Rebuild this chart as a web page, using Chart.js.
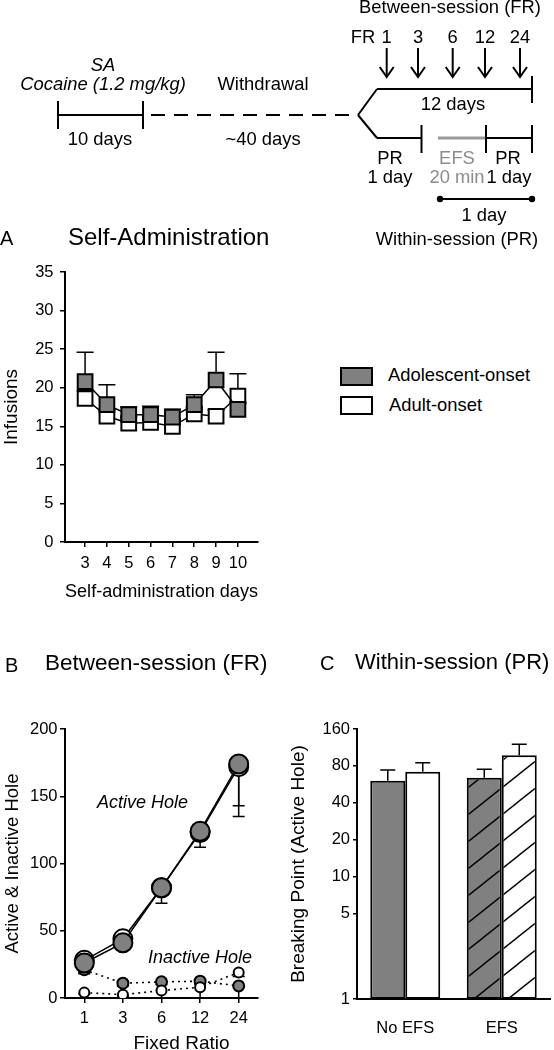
<!DOCTYPE html>
<html>
<head>
<meta charset="utf-8">
<script src="https://cdn.jsdelivr.net/npm/chart.js@4.4.1/dist/chart.umd.min.js"></script>
<style>
html, body { margin: 0; padding: 0; background: #fff; }
body { width: 554px; height: 1050px; position: relative; overflow: hidden;
       font-family: 'Liberation Sans', Arial, sans-serif; color: #000; }
canvas { position: absolute; }
.t { position: absolute; white-space: nowrap; line-height: 1; }
.sw { position: absolute; box-sizing: border-box; border: 2px solid #000; }
</style>
</head>
<body>
<canvas id="scheme" width="554" height="255" style="left:0;top:0"></canvas>
<canvas id="chartA" width="300" height="355" style="left:0;top:255px"></canvas>
<canvas id="chartB" width="280" height="410" style="left:0;top:640px"></canvas>
<canvas id="chartC" width="274" height="410" style="left:280px;top:640px"></canvas>
<script>
// ---- data ----
// A: self-administration
const saDays = [3, 4, 5, 6, 7, 8, 9, 10];
const saTicks = [0, 5, 10, 15, 20, 25, 30, 35];
const saAdolescent = [20.8, 17.8, 16.5, 16.5, 16.2, 17.8, 21.0, 17.2];
const saAdolescentSem = [3.8, 2.6, 1.0, 1.1, 1.0, 1.3, 3.6, 0.8];
const saAdult = [18.6, 16.3, 15.4, 15.5, 15.0, 16.6, 16.3, 18.9];
const saAdultSem = [1.0, 0.8, 0.8, 0.8, 0.8, 0.8, 0.8, 2.9];

// B: between-session FR
const frLabels = ['1', '3', '6', '12', '24'];
const frTicks = [0, 50, 100, 150, 200];
const activeAdolescent = [26, 41, 82, 124, 174];
const activeAdolescentSem = [8, 3, 11.5, 12, 31];
const activeAdult = [28, 44, 82, 123, 172];
const activeAdultSem = [6, 4, 3, 3, 37];
const inactiveAdolescent = [21, 11, 12, 12.5, 9];
const inactiveAdolescentSem = [2, 2, 2, 2, 9];
const inactiveAdult = [4, 2.5, 5.5, 8, 19];
const inactiveAdultSem = [1, 1, 5.5, 8, 3];

// C: within-session PR
const prGroups = ['No EFS', 'EFS'];
const prTicks = [1, 5, 10, 20, 40, 80, 160];
const prAdolescent = [60.5, 64];
const prAdolescentSem = [13.5, 11];
const prAdult = [71.7, 97.6];
const prAdultSem = [13.3, 22.4];

const GREY = '#808080';
const GREY_TXT = '#8c8c8c';

Chart.defaults.font.family = "'Liberation Sans', Arial, sans-serif";
Chart.defaults.color = '#000';

// ---- plain text helper (baseline positioned) ----
function addText(txt, x, base, o = {}) {
    const size = o.size || 18.4;
    const d = document.createElement('div');
    d.className = 't';
    d.textContent = txt;
    d.style.fontSize = size + 'px';
    d.style.top = (base - 0.8465 * size) + 'px';
    d.style.left = x + 'px';
    if (o.align === 'center') d.style.transform = 'translateX(-50%)';
    if (o.italic) d.style.fontStyle = 'italic';
    if (o.color) d.style.color = o.color;
    document.body.appendChild(d);
}

// ---- experiment timeline (schematic, not data) ----
const s = document.getElementById('scheme').getContext('2d');
s.strokeStyle = '#000';
s.lineWidth = 2;
function seg(x1, y1, x2, y2) {
    s.beginPath(); s.moveTo(x1, y1); s.lineTo(x2, y2); s.stroke();
}
seg(58, 115, 143, 115); seg(58, 101, 58, 129); seg(143, 101, 143, 129);
s.setLineDash([14, 9]);
seg(151, 115, 358, 115);
s.setLineDash([]);
seg(358, 115, 377, 89); seg(377, 89, 532, 89); seg(532, 76, 532, 103);
seg(358, 115, 377, 138); seg(377, 138, 421.5, 138); seg(421.5, 125, 421.5, 153);
seg(486, 138, 532, 138); seg(486, 125, 486, 153); seg(532, 125, 532, 153);
s.strokeStyle = '#9a9a9a'; s.lineWidth = 3;
seg(438, 138, 485, 138);
s.strokeStyle = '#000'; s.lineWidth = 2;
const arrowX = [386.7, 418, 452.7, 485, 520];
arrowX.forEach(x => {
    seg(x, 48, x, 77);
    s.beginPath(); s.moveTo(x - 7, 67); s.lineTo(x, 77); s.lineTo(x + 7, 67); s.stroke();
});
seg(440, 199, 532, 199);
[440, 532].forEach(x => { s.beginPath(); s.arc(x, 199, 3.2, 0, Math.PI * 2); s.fillStyle = '#000'; s.fill(); });

addText('Between-session (FR)', 450, 14, { align: 'center' });
addText('FR', 363, 43.5, { align: 'center' });
frLabels.forEach((l, i) => addText(l, arrowX[i], 43.5, { align: 'center' }));
addText('SA', 103, 72, { align: 'center', italic: true });
addText('Cocaine (1.2 mg/kg)', 103, 91, { align: 'center', italic: true });
addText('Withdrawal', 263, 91, { align: 'center' });
addText('12 days', 453, 111, { align: 'center' });
addText('10 days', 100, 146, { align: 'center' });
addText('~40 days', 263, 146, { align: 'center' });
addText('PR', 390, 165, { align: 'center' });
addText('1 day', 390, 184, { align: 'center' });
addText('EFS', 457, 165, { align: 'center', color: GREY_TXT });
addText('20 min', 457, 184, { align: 'center', color: GREY_TXT });
addText('PR', 508, 165, { align: 'center' });
addText('1 day', 509, 184, { align: 'center' });
addText('1 day', 484, 222, { align: 'center' });
addText('Within-session (PR)', 457, 246, { align: 'center' });

// panel headings, legend and notes
addText('A', 0, 245, { size: 20 });
addText('Self-Administration', 68, 245, { size: 24 });
addText('B', 5, 671.5, { size: 20 });
addText('Between-session (FR)', 45, 671.5, { size: 22.5 });
addText('C', 320, 670, { size: 20 });
addText('Within-session (PR)', 355, 670, { size: 22 });
addText('Adolescent-onset', 388, 381.5);
addText('Adult-onset', 389, 411.5);
addText('Active Hole', 97, 808, { italic: true, size: 18 });
addText('Inactive Hole', 148, 963, { italic: true, size: 18 });
addText('Fixed Ratio', 181.5, 1049, { align: 'center', size: 19 });

[[367, GREY], [396, '#fff']].forEach(([top, bg]) => {
    const d = document.createElement('div');
    d.className = 'sw';
    Object.assign(d.style, { left: '340px', top: top + 'px', width: '33px', height: '19px', background: bg });
    document.body.appendChild(d);
});

// ---- error bar plugin ----
function drawErrorBars(chart, opts) {
    const ctx = chart.ctx;
    const yScale = chart.scales.y;
    ctx.save();
    ctx.strokeStyle = '#000';
    ctx.lineWidth = opts.width || 1.5;
    chart.data.datasets.forEach((ds, di) => {
        if (!ds.errors) return;
        const meta = chart.getDatasetMeta(di);
        meta.data.forEach((el, i) => {
            const raw = ds.data[i];
            const v = typeof raw === 'object' ? raw.y : raw;
            let end = opts.dir === 'up' ? v + ds.errors[i] : v - ds.errors[i];
            end = Math.max(end, yScale.min);
            const yEnd = yScale.getPixelForValue(end);
            const half = opts.cap / 2;
            ctx.beginPath();
            ctx.moveTo(el.x, el.y);
            ctx.lineTo(el.x, yEnd);
            ctx.moveTo(el.x - half, yEnd);
            ctx.lineTo(el.x + half, yEnd);
            ctx.stroke();
        });
    });
    ctx.restore();
}
const errorBarPlugin = {
    id: 'errorBars',
    beforeDatasetsDraw(chart, args, opts) { if (opts.layer === 'before') drawErrorBars(chart, opts); },
    afterDatasetsDraw(chart, args, opts) { if (opts.layer !== 'before') drawErrorBars(chart, opts); }
};

function axisGrid(len) {
    return { drawOnChartArea: false, drawTicks: true, tickLength: len, color: '#000', lineWidth: 1.5 };
}
const axisBorder = { display: true, color: '#000', width: 2 };

// ---- A: Self-Administration ----
new Chart(document.getElementById('chartA'), {
    type: 'line',
    data: {
        datasets: [
            {
                label: 'Adolescent-onset',
                data: saDays.map((d, i) => ({ x: d, y: saAdolescent[i] })),
                errors: saAdolescentSem,
                borderColor: '#000', borderWidth: 1.5,
                pointStyle: 'rect', pointRadius: 10.4, pointBorderWidth: 2,
                pointBackgroundColor: GREY, pointBorderColor: '#000'
            },
            {
                label: 'Adult-onset',
                data: saDays.map((d, i) => ({ x: d, y: saAdult[i] })),
                errors: saAdultSem,
                borderColor: '#000', borderWidth: 1.5,
                pointStyle: 'rect', pointRadius: 10.4, pointBorderWidth: 2,
                pointBackgroundColor: '#fff', pointBorderColor: '#000'
            }
        ]
    },
    options: {
        responsive: false,
        animation: false,
        events: [],
        layout: { padding: { top: 17, right: 42, bottom: 0, left: 0 } },
        plugins: {
            legend: { display: false },
            tooltip: { enabled: false },
            errorBars: { dir: 'up', cap: 17, layer: 'before' }
        },
        scales: {
            x: {
                type: 'linear', min: 2.08, max: 10.92,
                afterBuildTicks: (sc) => { sc.ticks = saDays.map(v => ({ value: v })); },
                afterFit: (sc) => { sc.height = 68; },
                ticks: { font: { size: 16.5 }, padding: 6.5, autoSkip: false, maxRotation: 0 },
                grid: axisGrid(5),
                border: axisBorder,
                title: { display: true, text: 'Self-administration days', font: { size: 19 }, padding: { top: 0, bottom: 7 } }
            },
            y: {
                min: 0, max: 35,
                afterBuildTicks: (sc) => { sc.ticks = saTicks.map(v => ({ value: v })); },
                afterFit: (sc) => { sc.width = 65; },
                ticks: { font: { size: 16.5 }, padding: 6.5 },
                grid: axisGrid(5),
                border: axisBorder,
                title: { display: true, text: 'Infusions', font: { size: 19 }, padding: { top: 0, bottom: 0 } }
            }
        }
    },
    plugins: [errorBarPlugin]
});

// ---- B: Between-session (FR) ----
function frSet(label, values, sem, fill, radius, dotted, order) {
    return {
        label, data: values, errors: sem, order,
        borderColor: '#000', borderWidth: dotted ? 1.6 : 1.5,
        borderDash: dotted ? [2, 4] : [],
        pointStyle: 'circle', pointRadius: radius, pointBorderWidth: 2,
        pointBackgroundColor: fill, pointBorderColor: '#000'
    };
}
new Chart(document.getElementById('chartB'), {
    type: 'line',
    data: {
        labels: frLabels,
        datasets: [
            frSet('Active adolescent-onset', activeAdolescent, activeAdolescentSem, GREY, 9.5, false, 0),
            frSet('Active adult-onset', activeAdult, activeAdultSem, '#fff', 9.5, false, 1),
            frSet('Inactive adult-onset', inactiveAdult, inactiveAdultSem, '#fff', 5, true, 2),
            frSet('Inactive adolescent-onset', inactiveAdolescent, inactiveAdolescentSem, GREY, 5.5, true, 3)
        ]
    },
    options: {
        responsive: false,
        animation: false,
        events: [],
        layout: { padding: { top: 89, right: 22, bottom: 0, left: 0 } },
        plugins: {
            legend: { display: false },
            tooltip: { enabled: false },
            errorBars: { dir: 'down', cap: 12, layer: 'before' }
        },
        scales: {
            x: {
                type: 'category', offset: true,
                afterFit: (sc) => { sc.height = 52; },
                ticks: { font: { size: 16.5 }, padding: 5.5, autoSkip: false, maxRotation: 0 },
                grid: Object.assign(axisGrid(5), { offset: false }),
                border: axisBorder
            },
            y: {
                min: 0, max: 200,
                afterBuildTicks: (sc) => { sc.ticks = frTicks.map(v => ({ value: v })); },
                afterFit: (sc) => { sc.width = 65; },
                ticks: { font: { size: 16.5 }, padding: 2.5 },
                grid: axisGrid(5),
                border: axisBorder,
                title: { display: true, text: 'Active & Inactive Hole', font: { size: 18.5 }, padding: { top: 2, bottom: 0 } }
            }
        }
    },
    plugins: [errorBarPlugin]
});

// ---- C: Within-session (PR) ----
function hatch(bg) {
    const w = 34, h = 27;
    const c = document.createElement('canvas');
    c.width = w; c.height = h;
    const g = c.getContext('2d');
    g.fillStyle = bg;
    g.fillRect(0, 0, w, h);
    g.strokeStyle = '#000';
    g.lineWidth = 1.4;
    [-w, 0, w].forEach(dx => {
        g.beginPath();
        g.moveTo(dx - w, 2 * h);
        g.lineTo(dx + 2 * w, -h);
        g.stroke();
    });
    return g.createPattern(c, 'repeat');
}
const hatchGrey = hatch(GREY);
const hatchWhite = hatch('#fff');

new Chart(document.getElementById('chartC'), {
    type: 'bar',
    data: {
        labels: prGroups,
        datasets: [
            {
                label: 'Adolescent-onset', data: prAdolescent, errors: prAdolescentSem,
                backgroundColor: [GREY, hatchGrey], borderColor: '#000', borderWidth: 2, borderSkipped: false
            },
            {
                label: 'Adult-onset', data: prAdult, errors: prAdultSem,
                backgroundColor: ['#fff', hatchWhite], borderColor: '#000', borderWidth: 2, borderSkipped: false
            }
        ]
    },
    options: {
        responsive: false,
        animation: false,
        events: [],
        layout: { padding: { top: 89, right: 4, bottom: 0, left: 0 } },
        datasets: { bar: { categoryPercentage: 0.725, barPercentage: 1.0 } },
        plugins: {
            legend: { display: false },
            tooltip: { enabled: false },
            errorBars: { dir: 'up', cap: 15, layer: 'after' }
        },
        scales: {
            x: {
                offset: true,
                afterFit: (sc) => { sc.height = 51; },
                ticks: { font: { size: 16.5 }, padding: 19.4 },
                grid: { display: false, drawTicks: false },
                border: axisBorder
            },
            y: {
                type: 'logarithmic', min: 1, max: 160,
                afterBuildTicks: (sc) => { sc.ticks = prTicks.map(v => ({ value: v })); },
                afterFit: (sc) => { sc.width = 77; },
                ticks: { font: { size: 16.5 }, padding: 3, callback: (v) => String(v) },
                grid: axisGrid(4),
                border: axisBorder,
                title: { display: true, text: 'Breaking Point (Active Hole)', font: { size: 19 }, padding: { top: 7, bottom: 0 } }
            }
        }
    },
    plugins: [errorBarPlugin]
});
</script>
</body>
</html>
